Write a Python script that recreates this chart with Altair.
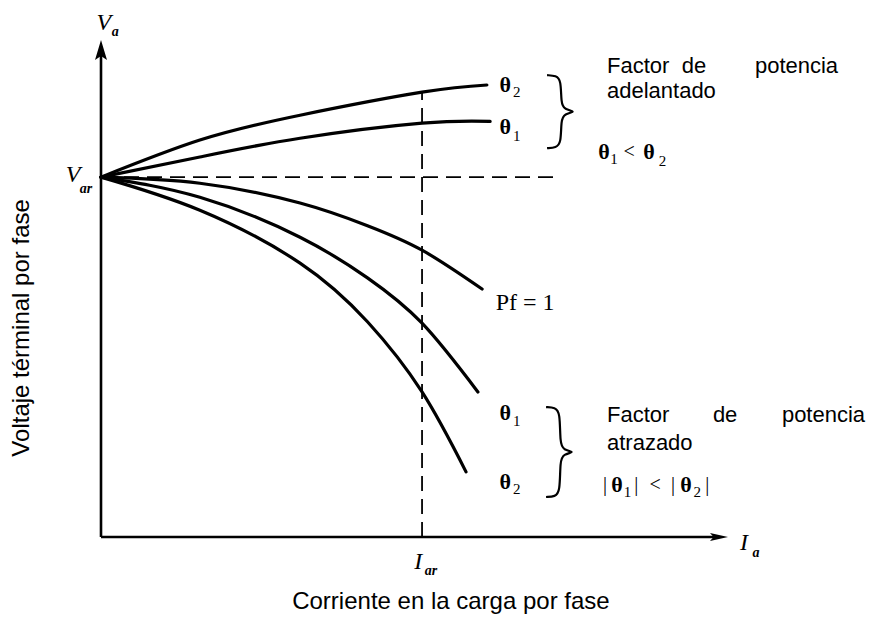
import altair as alt
import pandas as pd

# ---------------- data (per unit: I / I_ar , V / V_ar) ----------------
X_DOM = [0.0, 1.953]
Y_DOM = [0.0, 1.381]

I_lead2 = [0.0, 0.308, 0.620, 1.0, 1.202]
V_lead2 = [1.0, 1.103, 1.172, 1.236, 1.256]
I_lead1 = [0.0, 0.308, 0.620, 1.0, 1.212]
V_lead1 = [1.0, 1.056, 1.108, 1.150, 1.155]
I_pf1 = [0.0, 0.308, 0.620, 0.830, 1.0, 1.187]
V_pf1 = [1.0, 0.983, 0.928, 0.865, 0.797, 0.689]
I_lag1 = [0.0, 0.308, 0.620, 0.830, 1.0, 1.174]
V_lag1 = [1.0, 0.944, 0.833, 0.720, 0.594, 0.403]
I_lag2 = [0.0, 0.308, 0.620, 0.830, 1.0, 1.137]
V_lag2 = [1.0, 0.908, 0.761, 0.598, 0.403, 0.181]

I_AR = 1.0
V_AR = 1.0
H_DASH_END = 1.408
V_DASH_TOP = 1.236

# ---------------- helpers ----------------
SX = alt.Scale(domain=X_DOM, nice=False, zero=False)
SY = alt.Scale(domain=Y_DOM, nice=False, zero=False)


def xy(ch, order=False):
    enc = dict(x=alt.X("I:Q", scale=SX, axis=None),
               y=alt.Y("V:Q", scale=SY, axis=None))
    if order:
        enc["order"] = alt.Order("k:Q")
    return ch.encode(**enc)


def rule(df, **kw):
    return alt.Chart(df).mark_rule(color="black", **kw).encode(
        x=alt.X("I:Q", scale=SX, axis=None),
        y=alt.Y("V:Q", scale=SY, axis=None),
        x2="I2:Q", y2="V2:Q")


def text(items, **kw):
    df = pd.DataFrame(items, columns=["t", "I", "V"])
    style = dict(color="black", baseline="middle", align="center")
    style.update(kw)
    return xy(alt.Chart(df).mark_text(**style)).encode(text="t:N")


# curves
rows = []
for name, xs, ys in [("lead2", I_lead2, V_lead2), ("lead1", I_lead1, V_lead1),
                     ("pf1", I_pf1, V_pf1), ("lag1", I_lag1, V_lag1),
                     ("lag2", I_lag2, V_lag2)]:
    for a, b in zip(xs, ys):
        rows.append({"c": name, "I": a, "V": b})
curves = xy(alt.Chart(pd.DataFrame(rows)).mark_line(
    color="black", strokeWidth=3.2, interpolate="natural", strokeCap="round")
).encode(detail="c:N")

# axes
axes = rule(pd.DataFrame({"I": [0, 0], "V": [0, 0], "I2": [X_DOM[1] - 0.03, 0],
                          "V2": [0, Y_DOM[1] - 0.03]}), strokeWidth=2.6)
arrow_up = xy(alt.Chart(pd.DataFrame({"I": [0], "V": [Y_DOM[1]]})).mark_point(
    shape="M0,0L-0.6,2L0,1.6L0.6,2Z", size=400, filled=True, color="black",
    opacity=1, strokeWidth=0))
arrow_right = xy(alt.Chart(pd.DataFrame({"I": [X_DOM[1]], "V": [0]})).mark_point(
    shape="M0,0L-2,-0.45L-1.6,0L-2,0.45Z", size=324, filled=True, color="black",
    opacity=1, strokeWidth=0))

# dashed guides
dashes = rule(pd.DataFrame({"I": [0, I_AR], "V": [V_AR, 0], "I2": [H_DASH_END, I_AR],
                            "V2": [V_AR, V_DASH_TOP]}),
              strokeWidth=1.8, strokeDash=[15, 8])


# braces
def brace(px_left, py_top, py_bot, key):
    xv = px_left + 14
    xt = px_left + 30
    mid = (py_top + py_bot) / 2
    pts = [(px_left, py_top), (xv - 5, py_top + 0.5), (xv, py_top + 5),
           (xv, mid - 9), (xv + 3, mid - 2), (xt, mid), (xv + 3, mid + 2),
           (xv, mid + 9), (xv, py_bot - 5), (xv - 5, py_bot - 0.5), (px_left, py_bot)]
    return [{"b": key, "k": i, "I": (px - 101) / 321, "V": (537 - py) / 360}
            for i, (px, py) in enumerate(pts)]


braces = xy(alt.Chart(pd.DataFrame(brace(547, 75, 148, "u") + brace(546, 407, 497, "l")))
            .mark_line(color="black", strokeWidth=2.2, interpolate="basis"),
            order=True).encode(detail="b:N")

SERIF = "Liberation Serif"
SANS = "Liberation Sans"

labels = [
    text([("V", 0.009, 1.428), ("V", -0.087, 1.006), ("I", 0.988, -0.069), ("I", 2.003, -0.017)],
         font=SERIF, fontStyle="italic", fontSize=24),
    text([("a", 0.044, 1.402), ("ar", -0.047, 0.967), ("ar", 1.028, -0.094), ("a", 2.040, -0.044)],
         font=SERIF, fontStyle="italic", fontWeight="bold", fontSize=14),
    text([("θ", 1.259, 1.256), ("θ", 1.259, 1.139), ("θ", 1.259, 0.344), ("θ", 1.259, 0.153),
          ("θ", 1.567, 1.069), ("θ", 1.707, 1.069), ("θ", 1.607, 0.144), ("θ", 1.822, 0.144)],
         font=SERIF, fontWeight="bold", fontSize=22),
    text([("2", 1.295, 1.236), ("1", 1.295, 1.114), ("1", 1.295, 0.322), ("2", 1.295, 0.133),
          ("1", 1.598, 1.050), ("2", 1.749, 1.045), ("1", 1.640, 0.125), ("2", 1.857, 0.125)],
         font=SERIF, fontSize=15),
    text([("<", 1.645, 1.069), ("|", 1.570, 0.144), ("|", 1.667, 0.144), ("<", 1.726, 0.144),
          ("|", 1.782, 0.144), ("|", 1.888, 0.144)],
         font=SERIF, fontSize=20),
    text([("Pf = 1", 1.321, 0.650)], font=SERIF, fontSize=24),
    # right-hand annotations
    text([("Factor", 1.576, 1.308), ("adelantado", 1.576, 1.239),
          ("Factor", 1.576, 0.339), ("atrazado", 1.576, 0.261)],
         font=SANS, fontSize=22, align="left"),
    text([("de", 1.847, 1.308), ("de", 1.944, 0.339)], font=SANS, fontSize=22),
    text([("potencia", 2.296, 1.308), ("potencia", 2.380, 0.339)],
         font=SANS, fontSize=22, align="right"),
    # axis titles
    text([("Corriente en la carga por fase", 1.090, -0.181)], font=SANS, fontSize=24),
    text([("Voltaje términal por fase", -0.246, 0.581)], font=SANS, fontSize=24, angle=270),
]

chart = alt.layer(dashes, axes, arrow_up, arrow_right, curves, braces, *labels).properties(
    width=627, height=497,
    autosize=alt.AutoSizeParams(type="none"),
    padding={"left": 93, "top": 32, "right": 138, "bottom": 77},
).configure_view(stroke=None)

chart.save("out.html", embed_options={"renderer": "svg", "actions": False})
